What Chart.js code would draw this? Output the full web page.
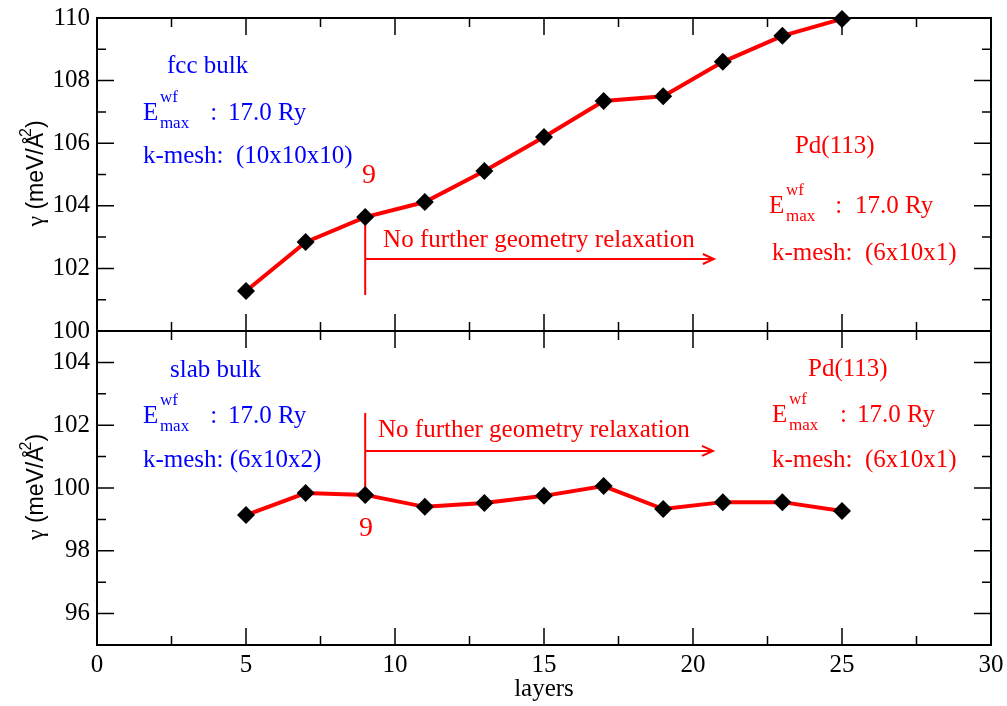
<!DOCTYPE html>
<html lang="en">
<head>
<meta charset="UTF-8" />
<title>Pd(113) surface energy vs layers</title>
<style>
  html, body { margin: 0; padding: 0; background: #fff; }
  #wrap { position: relative; width: 1007px; height: 706px; }
  #topChart { position: absolute; left: 0; top: 0; }
  #bottomChart { position: absolute; left: 0; top: 316px; }
</style>
</head>
<body>
<div id="wrap">
  <canvas id="topChart" width="1007" height="346"></canvas>
  <canvas id="bottomChart" width="1007" height="390"></canvas>
</div>

<script src="https://cdn.jsdelivr.net/npm/chart.js"></script>
<script>
// data
const layers = [5, 7, 9, 11, 13, 15, 17, 19, 21, 23, 25];
const gammaFcc = [101.28, 102.84, 103.64, 104.12, 105.11, 106.2, 107.35, 107.5, 108.6, 109.43, 109.97];
const gammaSlab = [99.14, 99.84, 99.78, 99.4, 99.52, 99.75, 100.06, 99.33, 99.55, 99.55, 99.27];
const xTicks = [0, 5, 10, 15, 20, 25, 30];
const yTicksTop = [100, 102, 104, 106, 108, 110];
const yTicksBottom = [96, 98, 100, 102, 104];

const BLUE = "#0000ff";
const RED = "#ff0000";
const SERIF = "Liberation Serif";
const SANS = "Liberation Sans";

// y title drawn by hand: symbol gamma + sans text + raised 2
function drawYTitle(ctx, cx, cy) {
  const parts = [
    { t: "γ", f: "24px " + SERIF, dy: 0 },
    { t: " (meV/Å", f: "23px " + SANS, dy: 0 },
    { t: "2", f: "16px " + SANS, dy: -12 },
    { t: ")", f: "23px " + SANS, dy: 0 },
  ];
  let w = 0;
  parts.forEach((p) => { ctx.font = p.f; p.w = ctx.measureText(p.t).width; w += p.w; });
  ctx.save();
  ctx.translate(cx, cy);
  ctx.rotate(-Math.PI / 2);
  ctx.fillStyle = "#000";
  ctx.textAlign = "left";
  ctx.textBaseline = "alphabetic";
  let px = -w / 2;
  parts.forEach((p) => {
    ctx.font = p.f;
    // the 2 sits above the A-ring, pull it back a little
    if (p.t === "2") px -= 4;
    ctx.fillText(p.t, px, p.dy);
    px += p.w;
  });
  ctx.restore();
}

// frame with inward ticks on all four sides + text notes
const panelDecor = {
  id: "panelDecor",
  beforeDatasetsDraw(chart, args, opts) {
    const { ctx, chartArea: a } = chart;
    const x = chart.scales.x, y = chart.scales.y;
    ctx.save();
    ctx.strokeStyle = "#000";
    ctx.lineWidth = 1.5;
    ctx.beginPath();
    for (let v = x.min; v <= x.max; v += 2.5) {
      const px = x.getPixelForValue(v);
      const len = xTicks.includes(v) ? 17 : 9;
      ctx.moveTo(px, a.bottom); ctx.lineTo(px, a.bottom - len);
      ctx.moveTo(px, a.top); ctx.lineTo(px, a.top + len);
    }
    for (let v = y.min; v <= y.max; v += 1) {
      const py = y.getPixelForValue(v);
      const len = opts.majorY.includes(v) ? 17 : 9;
      ctx.moveTo(a.left, py); ctx.lineTo(a.left + len, py);
      ctx.moveTo(a.right, py); ctx.lineTo(a.right - len, py);
    }
    ctx.stroke();
    ctx.lineWidth = 2;
    ctx.strokeRect(a.left, a.top, a.right - a.left, a.bottom - a.top);

    // "no further relaxation" marker at 9 layers
    const m = opts.marker;
    const mx = x.getPixelForValue(m.x);
    const ya = y.getPixelForValue(m.ya);
    const xe = x.getPixelForValue(m.xEnd);
    ctx.strokeStyle = RED;
    ctx.lineWidth = 2;
    ctx.beginPath();
    ctx.moveTo(mx, y.getPixelForValue(m.y0));
    ctx.lineTo(mx, y.getPixelForValue(m.y1));
    ctx.moveTo(mx, ya); ctx.lineTo(xe, ya);
    ctx.moveTo(xe - 11, ya - 5); ctx.lineTo(xe, ya); ctx.lineTo(xe - 11, ya + 5);
    ctx.stroke();
    ctx.restore();
  },
  afterDraw(chart, args, opts) {
    const { ctx, chartArea: a } = chart;
    const x = chart.scales.x, y = chart.scales.y;
    ctx.save();
    ctx.textBaseline = "alphabetic";
    ctx.textAlign = "left";
    opts.texts.forEach((t) => {
      ctx.fillStyle = t.c;
      ctx.font = (t.size || 25) + "px " + SERIF;
      ctx.fillText(t.t, x.getPixelForValue(t.x), y.getPixelForValue(t.y));
    });
    opts.emax.forEach((e) => {
      const px = x.getPixelForValue(e.x), py = y.getPixelForValue(e.y);
      ctx.fillStyle = e.c;
      ctx.font = "25px " + SERIF;
      ctx.fillText("E", px, py);
      ctx.font = "17px " + SERIF;
      ctx.fillText("wf", px + 17, py - 18);
      ctx.fillText("max", px + 17, py + 8);
    });
    ctx.restore();
    drawYTitle(ctx, 43, (a.top + a.bottom) / 2 - 3);
  },
};

function yScale(min, max, ticks) {
  return {
    min: min,
    max: max,
    afterBuildTicks: (s) => { s.ticks = ticks.map((v) => ({ value: v })); },
    afterFit: (s) => { s.width = 97; s.paddingTop = 0; s.paddingBottom = 0; },
    grid: { display: false, drawTicks: false },
    border: { display: false },
    ticks: { padding: 7, color: "#000", font: { family: SERIF, size: 25 } },
  };
}

function lineSet(values) {
  return {
    data: layers.map((l, i) => ({ x: l, y: values[i] })),
    borderColor: RED,
    borderWidth: 4,
    pointStyle: "rectRot",
    pointRadius: 9,
    pointBackgroundColor: "#000",
    pointBorderWidth: 0,
    clip: false,
    tension: 0,
  };
}

new Chart(document.getElementById("topChart"), {
  type: "line",
  data: { datasets: [lineSet(gammaFcc)] },
  options: {
    responsive: false,
    animation: false,
    layout: { padding: { top: 18, right: 16, bottom: 15, left: 0 } },
    scales: {
      x: { type: "linear", min: 0, max: 30, display: false },
      y: yScale(100, 110, yTicksTop),
    },
    plugins: {
      legend: { display: false },
      tooltip: { enabled: false },
      panelDecor: {
        majorY: yTicksTop,
        marker: { x: 9, y0: 103.64, y1: 101.15, ya: 102.3, xEnd: 20.7 },
        texts: [
          { t: "fcc bulk", x: 2.35, y: 108.24, c: BLUE },
          { t: ":", x: 3.8, y: 106.74, c: BLUE },
          { t: "17.0 Ry", x: 4.4, y: 106.74, c: BLUE },
          { t: "k-mesh:  (10x10x10)", x: 1.54, y: 105.37, c: BLUE },
          { t: "9", x: 8.89, y: 104.73, c: RED, size: 28 },
          { t: "No further geometry relaxation", x: 9.6, y: 102.68, c: RED },
          { t: "Pd(113)", x: 23.42, y: 105.69, c: RED },
          { t: ":", x: 24.77, y: 103.77, c: RED },
          { t: "17.0 Ry", x: 25.44, y: 103.77, c: RED },
          { t: "k-mesh:  (6x10x1)", x: 22.65, y: 102.27, c: RED },
        ],
        emax: [
          { x: 1.54, y: 106.74, c: BLUE },
          { x: 22.55, y: 103.77, c: RED },
        ],
      },
    },
  },
  plugins: [panelDecor],
});

new Chart(document.getElementById("bottomChart"), {
  type: "line",
  data: { datasets: [lineSet(gammaSlab)] },
  options: {
    responsive: false,
    animation: false,
    layout: { padding: { top: 15, right: 16, bottom: 0, left: 0 } },
    scales: {
      x: {
        type: "linear",
        min: 0,
        max: 30,
        afterBuildTicks: (s) => { s.ticks = xTicks.map((v) => ({ value: v })); },
        afterFit: (s) => { s.height = 61; s.paddingLeft = 0; s.paddingRight = 0; },
        grid: { display: false, drawTicks: false },
        border: { display: false },
        ticks: { padding: 5, maxRotation: 0, color: "#000", font: { family: SERIF, size: 25 } },
        title: {
          display: true,
          text: "layers",
          color: "#000",
          font: { family: SERIF, size: 25 },
          padding: { top: 0, bottom: 2 },
        },
      },
      y: yScale(95, 105, yTicksBottom),
    },
    plugins: {
      legend: { display: false },
      tooltip: { enabled: false },
      panelDecor: {
        majorY: yTicksBottom,
        marker: { x: 9, y0: 99.78, y1: 102.39, ya: 101.18, xEnd: 20.67 },
        texts: [
          { t: "slab bulk", x: 2.45, y: 103.54, c: BLUE },
          { t: ":", x: 3.8, y: 102.07, c: BLUE },
          { t: "17.0 Ry", x: 4.4, y: 102.07, c: BLUE },
          { t: "k-mesh: (6x10x2)", x: 1.54, y: 100.67, c: BLUE },
          { t: "9", x: 8.79, y: 98.47, c: RED, size: 28 },
          { t: "No further geometry relaxation", x: 9.43, y: 101.62, c: RED },
          { t: "Pd(113)", x: 23.86, y: 103.57, c: RED },
          { t: ":", x: 24.93, y: 102.1, c: RED },
          { t: "17.0 Ry", x: 25.5, y: 102.1, c: RED },
          { t: "k-mesh:  (6x10x1)", x: 22.65, y: 100.67, c: RED },
        ],
        emax: [
          { x: 1.54, y: 102.07, c: BLUE },
          { x: 22.65, y: 102.1, c: RED },
        ],
      },
    },
  },
  plugins: [panelDecor],
});
</script>
</body>
</html>
